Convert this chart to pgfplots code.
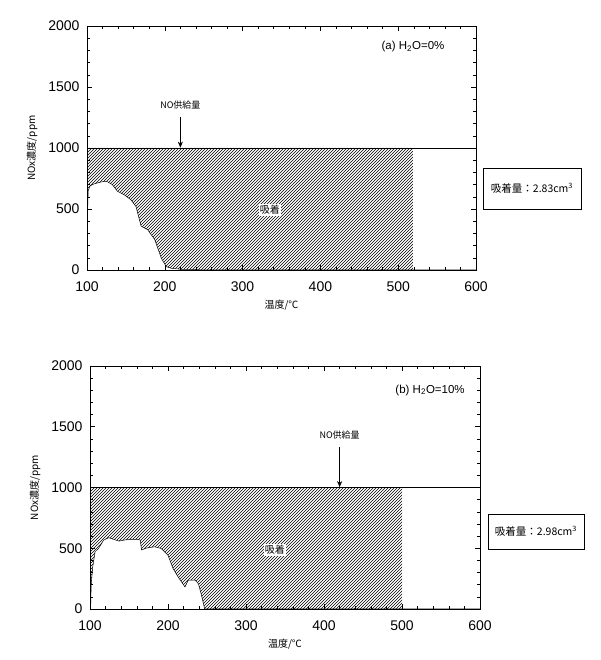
\documentclass[border=0pt]{standalone}
\usepackage{fontspec}
\setmainfont{Liberation Sans}
\newfontfamily\cjk{Noto Sans CJK JP}
\usepackage{pgfplots}
\usepackage{pgfplotstable}
\pgfplotsset{compat=1.18}
\usepgfplotslibrary{fillbetween}
\usetikzlibrary{patterns,arrows.meta}

% NOx outlet concentration, H2O = 0%
\pgfplotstableread{
x y
100.3 0
100.6 450
101.5 650
104 690
108.7 705
117 720
122 726
126 724
132.6 700
139 646
148 616
156.5 575
163 520
169.5 360
178 330
187 250
195.6 96
202 27
208.7 14
222 5
260 0
600 0
}\curvea

% NOx outlet concentration, H2O = 10%
\pgfplotstableread{
x y
100.8 0
101.5 200
103.5 347
106.5 471
111 499
117.4 567
124 587
130.4 573
137 559
143.5 567
152 573
161 573
164.5 567
166 486
172.6 502
182.6 512
191 499
200 443
206.5 333
213 264
221.7 182
226 237
234.8 237
239 209
243.5 99
247 0
600 0
}\curveb

\pgfplotstableread{
x y
100 1000
600 1000
}\feed

\pgfplotsset{
  noxaxis/.style={
    scale only axis,
    xmin=100, xmax=600, ymin=0, ymax=2000,
    xtick={100,200,...,600}, ytick={0,500,...,2000},
    minor x tick num=4, minor y tick num=4,
    tick align=inside,
    major tick length=5pt, minor tick length=3pt,
    axis line style={line width=0.6pt},
    tick style={line width=0.5pt, black},
    tick label style={font=\fontsize{14}{16}\selectfont},
    xticklabel style={yshift=-8pt},
    yticklabel style={xshift=-4pt},
    /pgf/number format/assume math mode=true,
    /pgf/number format/1000 sep={},
    xlabel={\cjk\fontsize{10}{12}\selectfont 温度/℃},
    ylabel={\cjk\fontsize{10}{12}\selectfont NOx濃度/ppm},
    xlabel style={at={(axis description cs:0.5,0)}, anchor=center, yshift=-35pt},
    ylabel style={at={(axis description cs:-0.141,0.5)}, anchor=center},
  }
}

\begin{document}
\begin{tikzpicture}
% (a) H2O = 0%
\begin{axis}[noxaxis, at={(87pt,390pt)}, anchor=south west, width=389pt, height=244pt]
  \addplot[name path=ca, black, line width=0.5pt] table {\curvea};
  \addplot[name path=fa, black, line width=0.6pt] table {\feed};
  \addplot[pattern=north east lines, pattern color=black]
    fill between[of=fa and ca, soft clip={domain=100:519}];
  \node[fill=white, inner sep=1pt, font=\cjk\fontsize{10}{12}\selectfont] at (axis cs:335,492) {吸着};
  \node[font=\cjk\fontsize{9}{11}\selectfont] at (axis cs:220,1352) {NO供給量};
  \draw[-{Stealth[length=6pt,width=5pt]}, line width=0.5pt] (axis cs:220,1254) -- (axis cs:220,1003);
  \node[font=\fontsize{11.5}{13}\selectfont] at (axis cs:519,1828) {(a) H\textsubscript{2}O=0\%};
\end{axis}

% (b) H2O = 10%
\begin{axis}[noxaxis, at={(90pt,51pt)}, anchor=south west, width=390pt, height=243pt]
  \addplot[name path=cb, black, line width=0.5pt] table {\curveb};
  \addplot[name path=fb, black, line width=0.6pt] table {\feed};
  \addplot[pattern=north east lines, pattern color=black]
    fill between[of=fb and cb, soft clip={domain=100:500}];
  \node[fill=white, inner sep=1pt, font=\cjk\fontsize{10}{12}\selectfont] at (axis cs:337,486) {吸着};
  \node[font=\cjk\fontsize{9}{11}\selectfont] at (axis cs:420,1432) {NO供給量};
  \draw[-{Stealth[length=6pt,width=5pt]}, line width=0.5pt] (axis cs:420,1333) -- (axis cs:420,1003);
  \node[font=\fontsize{11.5}{13}\selectfont] at (axis cs:536,1802) {(b) H\textsubscript{2}O=10\%};
\end{axis}

% adsorbed amount boxes
\node[draw, line width=0.6pt, minimum width=98pt, minimum height=41pt, font=\cjk\fontsize{10.5}{12}\selectfont]
  at (532pt,471.5pt) {吸着量：2.83cm\textsuperscript{3}};
\node[draw, line width=0.6pt, minimum width=96pt, minimum height=35pt, font=\cjk\fontsize{10.5}{12}\selectfont]
  at (536pt,128.5pt) {吸着量：2.98cm\textsuperscript{3}};
% page frame
\path (0pt,0pt) rectangle (600pt,660pt);
\end{tikzpicture}
\end{document}
